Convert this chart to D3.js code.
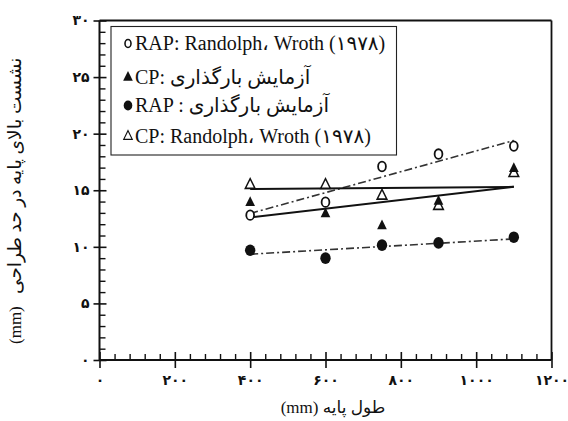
<!DOCTYPE html>
<html>
<head>
<meta charset="utf-8">
<script src="https://cdn.jsdelivr.net/npm/d3@7"></script>
<style>
  body { margin: 0; background: #fff; }
  svg { display: block; }
</style>
</head>
<body>
<svg id="chart" width="568" height="421"></svg>
<script>
// Pile length (mm) at each load test
const pileLength = [400, 600, 750, 900, 1100];

// Settlement at design load (mm)
const rapRandolph = [12.8, 13.95, 17.1, 18.2, 18.9];   // RAP: Randolph & Wroth (1978)
const cpTest      = [13.9, 12.9, 11.85, 14.0, 16.9];   // CP load test
const rapTest     = [9.7, 9.0, 10.15, 10.35, 10.85];   // RAP load test
const cpRandolph  = [15.45, 15.45, 14.5, 13.6, 16.5];  // CP: Randolph & Wroth (1978)

// Fitted trend lines: [pile length, settlement] end points
const rapRandolphFit = [[400, 12.95], [1100, 19.4]];
const rapTestFit     = [[400, 9.35], [1100, 10.7]];
const cpRandolphFit  = [[400, 15.1], [1100, 15.3]];
const cpTestFit      = [[400, 12.6], [1100, 15.3]];

// Axis ticks
const xTicks = [0, 200, 400, 600, 800, 1000, 1200];
const yTicks = [0, 5, 10, 15, 20, 25, 30];
const xMinor = d3.range(0, 1201, 40).filter(v => v % 200 !== 0);
const yMinor = d3.range(0, 31, 1).filter(v => v % 5 !== 0);

// Legend labels
const legendLabels = [
  "RAP: Randolph\u060C Wroth (\u06F1\u06F9\u06F7\u06F8)",
  "CP: \u0622\u0632\u0645\u0627\u06CC\u0634 \u0628\u0627\u0631\u06AF\u0630\u0627\u0631\u06CC",
  "RAP : \u0622\u0632\u0645\u0627\u06CC\u0634 \u0628\u0627\u0631\u06AF\u0630\u0627\u0631\u06CC",
  "CP: Randolph\u060C Wroth (\u06F1\u06F9\u06F7\u06F8)"
];
const xTitle = "\u0637\u0648\u0644 \u067E\u0627\u06CC\u0647";
const yTitle = "\u0646\u0634\u0633\u062A \u0628\u0627\u0644\u0627\u06CC \u067E\u0627\u06CC\u0647 \u062F\u0631 \u062D\u062F \u0637\u0631\u0627\u062D\u06CC";

const svg = d3.select("#chart");
const x = d3.scaleLinear().domain([0, 1200]).range([99.5, 551.5]);
const y = d3.scaleLinear().domain([0, 30]).range([360, 20.5]);

const faDigits = "\u06F0\u06F1\u06F2\u06F3\u06F4\u06F5\u06F6\u06F7\u06F8\u06F9";
const fa = n => String(n).replace(/\d/g, d => faDigits[+d]);

const serif = "'Liberation Serif', 'DejaVu Serif', 'DejaVu Sans', serif";
const tickFont = "'DejaVu Sans', sans-serif";

// ---- frame (top and right borders)
svg.append("line")
  .attr("x1", x(0)).attr("x2", x(1200)).attr("y1", y(30)).attr("y2", y(30))
  .attr("stroke", "#111").attr("stroke-width", 2);
svg.append("line")
  .attr("x1", x(1200)).attr("x2", x(1200)).attr("y1", y(30)).attr("y2", y(0))
  .attr("stroke", "#111").attr("stroke-width", 1.8);

function styleAxis(g, width) {
  g.select(".domain").remove();
  g.selectAll(".tick line").attr("stroke", "#111").attr("stroke-width", width);
}

// ---- x axis
const gx = svg.append("g").attr("transform", `translate(0,${y(0)})`);
gx.append("g")
  .call(d3.axisBottom(x).tickValues(xTicks).tickSize(8).tickPadding(7).tickFormat(fa))
  .call(g => styleAxis(g, 1.6))
  .call(g => g.selectAll("text")
    .attr("font-family", tickFont).attr("font-weight", "bold")
    .attr("font-size", 14).attr("fill", "#111"));
gx.append("g")
  .call(d3.axisTop(x).tickValues(xTicks).tickSize(8).tickFormat(""))
  .call(g => styleAxis(g, 1.6));
gx.append("g")
  .call(d3.axisTop(x).tickValues(xMinor).tickSize(6).tickFormat(""))
  .call(g => styleAxis(g, 1.4));
gx.append("line")
  .attr("x1", x(0)).attr("x2", x(1200))
  .attr("stroke", "#111").attr("stroke-width", 2);

// ---- y axis
const gy = svg.append("g").attr("transform", `translate(${x(0)},0)`);
gy.append("g")
  .call(d3.axisLeft(y).tickValues(yTicks).tickSize(6).tickPadding(4).tickFormat(fa))
  .call(g => styleAxis(g, 1.6))
  .call(g => g.selectAll("text")
    .attr("font-family", tickFont).attr("font-weight", "bold")
    .attr("font-size", 14).attr("fill", "#111"));
gy.append("g")
  .call(d3.axisRight(y).tickValues(yTicks).tickSize(7).tickFormat(""))
  .call(g => styleAxis(g, 1.6));
gy.append("g")
  .call(d3.axisRight(y).tickValues(yMinor).tickSize(6).tickFormat(""))
  .call(g => styleAxis(g, 1.4));
gy.append("line")
  .attr("y1", y(0)).attr("y2", y(30))
  .attr("stroke", "#111").attr("stroke-width", 2);

// ---- axis titles
const xt = svg.append("text")
  .attr("x", 333).attr("y", 413)
  .attr("text-anchor", "middle")
  .attr("font-family", serif).attr("font-size", 17).attr("fill", "#111");
xt.append("tspan").text("(mm) ");
xt.append("tspan").text(xTitle);

const yt = svg.append("g").attr("transform", "translate(21,344) rotate(-90)");
yt.append("text")
  .attr("x", 0).attr("y", 0)
  .attr("font-family", serif).attr("font-size", 17).attr("fill", "#111")
  .text("(mm)");
yt.append("text")
  .attr("x", 50).attr("y", 0)
  .attr("font-family", serif).attr("font-size", 18.5).attr("fill", "#111")
  .attr("direction", "rtl").attr("text-anchor", "end")
  .text(yTitle);

// ---- trend lines
const line = d3.line().x(d => x(d[0])).y(d => y(d[1]));
const dashDot = "8,3,2,3";
svg.append("path").datum(rapRandolphFit).attr("d", line)
  .attr("fill", "none").attr("stroke", "#333").attr("stroke-width", 1.6).attr("stroke-dasharray", dashDot);
svg.append("path").datum(rapTestFit).attr("d", line)
  .attr("fill", "none").attr("stroke", "#333").attr("stroke-width", 1.6).attr("stroke-dasharray", dashDot);
svg.append("path").datum(cpRandolphFit).attr("d", line)
  .attr("fill", "none").attr("stroke", "#111").attr("stroke-width", 2);
svg.append("path").datum(cpTestFit).attr("d", line)
  .attr("fill", "none").attr("stroke", "#111").attr("stroke-width", 2);

// ---- markers
const tri = d3.symbol().type(d3.symbolTriangle).size(50)();
function pts(values) { return pileLength.map((p, i) => [p, values[i]]); }

svg.append("g").selectAll("path").data(pts(cpRandolph)).join("path")
  .attr("d", tri)
  .attr("transform", d => `translate(${x(d[0])},${y(d[1])}) scale(0.9,1.05)`)
  .attr("fill", "#fff").attr("stroke", "#111").attr("stroke-width", 1.6);

svg.append("g").selectAll("path").data(pts(cpTest)).join("path")
  .attr("d", tri)
  .attr("transform", d => `translate(${x(d[0])},${y(d[1])}) scale(0.9,1.05)`)
  .attr("fill", "#111");

svg.append("g").selectAll("ellipse").data(pts(rapRandolph)).join("ellipse")
  .attr("cx", d => x(d[0])).attr("cy", d => y(d[1]))
  .attr("rx", 3.9).attr("ry", 4.8)
  .attr("fill", "#fff").attr("stroke", "#111").attr("stroke-width", 1.8);

svg.append("g").selectAll("ellipse").data(pts(rapTest)).join("ellipse")
  .attr("cx", d => x(d[0])).attr("cy", d => y(d[1]))
  .attr("rx", 5.2).attr("ry", 5.8)
  .attr("fill", "#111");

// ---- legend
const lg = svg.append("g");
lg.append("rect")
  .attr("x", 111).attr("y", 26.5).attr("width", 285.5).attr("height", 128.5)
  .attr("fill", "#fff").attr("stroke", "#222").attr("stroke-width", 1.1);

const rowsY = [50, 84, 112, 143];
const legendMarks = [
  g => g.append("ellipse").attr("rx", 3).attr("ry", 4).attr("fill", "#fff").attr("stroke", "#111").attr("stroke-width", 1.6),
  g => g.append("path").attr("d", tri).attr("transform", "scale(0.9,1.05)").attr("fill", "#111"),
  g => g.append("ellipse").attr("rx", 4.3).attr("ry", 5).attr("fill", "#111"),
  g => g.append("path").attr("d", tri).attr("transform", "scale(0.8,0.95)").attr("fill", "#fff").attr("stroke", "#111").attr("stroke-width", 1.3)
];
legendLabels.forEach((label, i) => {
  const m = lg.append("g").attr("transform", `translate(128,${rowsY[i] - 6.5})`);
  legendMarks[i](m);
  lg.append("text")
    .attr("x", 135).attr("y", rowsY[i])
    .attr("font-family", serif).attr("font-size", 20).attr("fill", "#111")
    .text(label);
});
</script>
</body>
</html>
